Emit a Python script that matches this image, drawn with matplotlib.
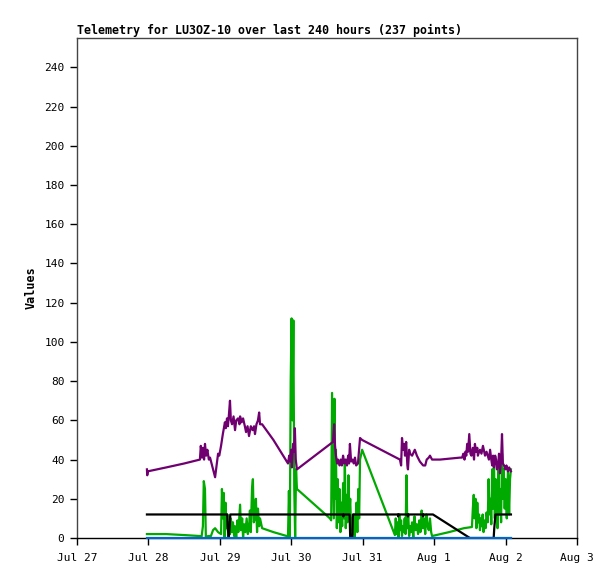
import datetime as dt
import matplotlib
matplotlib.use('Agg')
import matplotlib.pyplot as plt

# hours after Jul 27 00:00, and values
base = dt.datetime(2024, 7, 27)

purple_h = [23.5, 23.6, 23.8, 30, 36, 41.3, 41.6, 42.0, 42.3, 42.7, 43.0, 43.4, 43.8, 44.3, 44.7,
            46.4, 47.0, 47.4, 47.8, 48.4, 49.0, 49.7, 50.0, 50.4, 50.7, 51.0, 51.4, 51.7, 52.1, 52.6,
            53.1, 53.5, 54.1, 54.6, 54.8, 55.3, 55.8, 56.4, 56.8, 57.3, 57.8, 58.4, 59.0, 59.5, 59.8,
            60.3, 60.8, 61.2, 61.5, 62.2, 66, 70.9, 71.3, 71.6, 72.0, 72.2, 72.6, 72.9, 73.2, 73.5,
            73.9, 86.0, 86.4, 86.7, 87.0, 87.4, 87.7, 88.2, 88.6, 89.0, 89.4, 89.8, 90.3, 90.7, 91.1,
            91.4, 91.7, 92.1, 92.6, 93.0, 93.4, 93.8, 94.4, 95.1, 95.8, 108.5, 108.9, 109.2, 109.6,
            110.0, 110.2, 110.6, 111.0, 111.2, 111.6, 111.9, 112.6, 113.5, 114.2, 115.2, 116.3, 117.0,
            117.5, 118.2, 118.6, 119.3, 122, 125.3, 128.7, 129.4, 129.8, 130.2, 130.5, 130.8, 131.1,
            131.4, 131.8, 132.2, 132.5, 133.0, 133.4, 133.7, 134.1, 134.5, 134.7, 135.1, 135.4, 135.9,
            136.4, 136.8, 137.1, 137.6, 138.0, 138.4, 138.8, 139.2, 139.5, 139.8, 140.1, 140.5, 140.8,
            141.1, 141.5, 141.8, 142.1, 142.5, 142.8, 143.1, 143.5, 143.9, 144.3, 144.8, 145.2, 145.8]
purple_v = [35, 32, 34, 36, 38, 40, 47, 41, 46, 40, 48, 42, 45, 40, 41,
            31, 38, 43, 42, 47, 53, 59, 56, 61, 57, 62, 70, 60, 58, 62,
            55, 60, 61, 58, 62, 59, 61, 57, 54, 57, 52, 57, 55, 57, 53,
            58, 60, 64, 58, 58, 50, 38, 42, 39, 45, 36, 48, 44, 56, 40,
            35, 49, 58, 47, 42, 38, 40, 37, 40, 37, 42, 38, 40, 37, 42,
            38, 48, 39, 40, 38, 41, 37, 38, 51, 50, 40, 37, 51, 45,
            48, 42, 49, 37, 35, 45, 43, 42, 45, 42, 39, 37, 37,
            40, 41, 42, 40, 40, 40.5, 41, 41, 43, 40, 44, 42, 48,
            44, 53, 43, 42, 46, 40, 48, 44, 46, 42, 44, 45, 43,
            47, 44, 42, 44, 42, 40, 45, 40, 37, 42, 36, 42, 40,
            35, 37, 43, 33, 40, 53, 38, 37, 35, 37, 34, 36, 34]

green_h = [23.5, 30, 36, 41.3, 41.8, 42.3, 42.6, 43.0, 43.3, 44.0, 45.0, 45.7, 46.4, 47.4, 48.4,
           48.7, 49.0, 49.3, 49.6, 49.9, 50.2, 50.5, 50.8, 51.1, 51.4, 51.7, 52.1, 52.4, 52.8, 53.1,
           53.5, 53.9, 54.2, 54.8, 55.1, 55.5, 55.8, 56.2, 56.6, 57.0, 57.4, 57.8, 58.1, 58.4, 58.8,
           59.1, 59.4, 59.8, 60.1, 60.5, 60.8, 61.2, 61.5, 62.2, 66, 70.5, 70.9, 71.2, 71.5, 71.8,
           72.1, 72.4, 72.7, 73.0, 73.3, 73.6, 73.9, 85.0, 85.4, 85.7, 86.0, 86.3, 86.5, 86.8, 87.0,
           87.3, 87.6, 87.9, 88.2, 88.5, 88.8, 89.1, 89.4, 89.7, 90.0, 90.3, 90.6, 90.9, 91.2, 91.5,
           91.8, 92.1, 92.4, 92.7, 93.0, 93.3, 93.6, 93.9, 94.2, 94.5, 94.8, 95.1, 95.8, 106.8, 107.1,
           107.4, 107.7, 108.0, 108.3, 108.6, 108.9, 109.2, 109.5, 109.8, 110.1, 110.4, 110.7, 111.0,
           111.3, 111.6, 111.9, 112.2, 112.6, 113.0, 113.4, 113.8, 114.2, 114.6, 115.0, 115.4, 115.8,
           116.2, 116.6, 117.0, 117.4, 117.8, 118.2, 118.6, 119.0, 119.3, 125, 130, 132.7, 133.0,
           133.3, 133.6, 133.9, 134.2, 134.5, 134.8, 135.1, 135.4, 135.7, 136.0, 136.3, 136.6, 137.0,
           137.3, 137.6, 138.0, 138.3, 138.6, 138.9, 139.2, 139.5, 139.8, 140.1, 140.4, 140.7, 141.0,
           141.3, 141.6, 141.9, 142.2, 142.5, 142.8, 143.1, 143.4, 143.7, 144.0, 144.4, 144.8, 145.2,
           145.5, 145.8]
green_v = [2, 2, 1.5, 1, 0, 6, 29, 25, 0, 1, 1, 4, 5, 3, 2,
           25, 10, 23, 0, 18, 5, 12, 0, 8, 2, 10, 3, 8, 1, 6,
           0, 9, 3, 17, 4, 10, 0, 7, 3, 10, 2, 5, 14, 3, 25,
           30, 8, 10, 20, 3, 15, 6, 10, 5, 3, 1, 1, 24, 0, 80,
           112, 60, 111, 25, 0, 35, 25, 10, 9, 74, 40, 10, 71, 20, 45,
           5, 30, 8, 25, 3, 18, 6, 28, 10, 40, 5, 22, 8, 32, 12,
           20, 4, 10, 2, 12, 0, 8, 18, 3, 25, 10, 40, 45, 1.5, 10,
           2, 8, 0, 12, 4, 9, 1, 6, 3, 10, 2, 32, 5,
           12, 1, 6, 3, 8, 0, 11, 4, 7, 2, 9, 3, 14,
           5, 10, 2, 12, 6, 4, 10, 3, 1, 3, 5, 5.6, 15,
           22, 10, 20, 5, 18, 8, 12, 4, 10, 6, 12, 3, 9,
           5, 13, 8, 30, 12, 20, 7, 35, 15, 40, 10, 30, 22,
           5, 38, 12, 25, 8, 43, 20, 35, 15, 30, 10, 35, 12,
           30, 35]

black_h = [23.5, 50.5, 50.6, 51.0, 51.3, 51.5, 89.4, 89.5, 89.6, 91.6, 91.8, 92.5, 92.7, 107.8,
           107.9, 108.0, 111.1, 111.2, 111.3, 116.2, 116.3, 116.4, 119.6, 132.0, 140.0, 140.2,
           140.6, 145.8]
black_v = [12, 12, 6, 0, 6, 12, 12, 11, 12, 12, 0, 0, 12, 12,
           11, 12, 12, 11, 12, 12, 11, 12, 12, 0, 0, 5,
           12, 12]

blue_h = [23.5, 145.8]
blue_v = [0, 0]

y_ticks = list(range(0, 241, 20))
x_tick_labels = ['Jul 27', 'Jul 28', 'Jul 29', 'Jul 30', 'Jul 31', 'Aug 1', 'Aug 2', 'Aug 3']


def to_dates(hours):
    return [base + dt.timedelta(hours=h) for h in hours]


fig = plt.figure(figsize=(6.15, 5.79), dpi=100)
ax = fig.add_axes([77 / 615, 41 / 579, 500 / 615, 500 / 579])

lw = 1.6
ax.plot(to_dates(green_h), green_v, color='#00aa00', lw=lw)
ax.plot(to_dates(purple_h), purple_v, color='#700070', lw=lw)
ax.plot(to_dates(black_h), black_v, color='black', lw=lw)
ax.plot(to_dates(blue_h), blue_v, color='#0066cc', lw=lw, zorder=3, clip_on=False)

ax.set_xlim(base, base + dt.timedelta(days=7))
ax.set_ylim(0, 255)
ax.set_yticks(y_ticks)
ax.set_xticks([base + dt.timedelta(days=i) for i in range(8)])
ax.set_xticklabels(x_tick_labels)

mono = 'DejaVu Sans Mono'
for lab in ax.get_xticklabels() + ax.get_yticklabels():
    lab.set_fontfamily(mono)
    lab.set_fontsize(8)
ax.tick_params(direction='out', length=5, width=1, pad=4)
ax.tick_params(axis='x', pad=6)

for side in ['top', 'right', 'left']:
    ax.spines[side].set_color('#444444')
ax.spines['bottom'].set_color('black')
for s in ax.spines.values():
    s.set_linewidth(1)

ax.set_ylabel('Values', family=mono, fontsize=8.5, fontweight='bold', labelpad=5)
ax.set_title('Telemetry for LU3OZ-10 over last 240 hours (237 points)', family=mono,
             fontsize=8.4, fontweight='bold', loc='left', pad=3)

fig.savefig('out.png', dpi=100)
